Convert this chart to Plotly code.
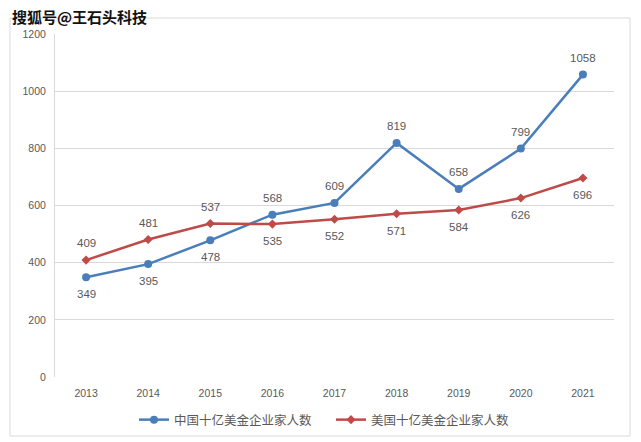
import plotly.graph_objects as go

years = ["2013", "2014", "2015", "2016", "2017", "2018", "2019", "2020", "2021"]
china = [349, 395, 478, 568, 609, 819, 658, 799, 1058]
usa = [409, 481, 537, 535, 552, 571, 584, 626, 696]
china_label_pos = [-1, -1, -1, 1, 1, 1, 1, 1, 1]
usa_label_pos = [1, 1, 1, -1, -1, -1, -1, -1, -1]
china_name = "中国十亿美金企业家人数"
usa_name = "美国十亿美金企业家人数"
yticks = [0, 200, 400, 600, 800, 1000, 1200]

xi = list(range(len(years)))

blue = "#4A7EBB"
red = "#BE4B48"
gray = "#595959"

fig = go.Figure()
fig.add_trace(go.Scatter(x=xi, y=china, name=china_name, mode="lines+markers",
                         line=dict(color=blue, width=2.5),
                         marker=dict(symbol="circle", size=8, color=blue)))
fig.add_trace(go.Scatter(x=xi, y=usa, name=usa_name, mode="lines+markers",
                         line=dict(color=red, width=2.5),
                         marker=dict(symbol="diamond", size=7, color=red)))

annotations = []
for ys, pos in [(china, china_label_pos), (usa, usa_label_pos)]:
    for x, y, p in zip(xi, ys, pos):
        annotations.append(dict(x=x, y=y, xref="x", yref="y", text=str(y), showarrow=False,
                                yshift=17 * p, font=dict(size=11.5, color=gray,
                                family="Liberation Sans, Arial, sans-serif")))

annotations.append(dict(xref="paper", yref="paper", x=(10 - 55) / 559, y=(377 - 16) / 343,
                        xanchor="left", yanchor="middle", showarrow=False,
                        text="<b>搜狐号@王石头科技</b>",
                        font=dict(size=15, color="#111111", family="Noto Sans CJK SC")))

fig.update_layout(
    width=641, height=442,
    margin=dict(l=55, r=27, t=34, b=65, autoexpand=False),
    paper_bgcolor="white", plot_bgcolor="white",
    font=dict(family="Liberation Sans, Arial, sans-serif", color=gray, size=11),
    showlegend=True,
    legend=dict(orientation="h", xref="container", yref="container",
                x=134 / 641, y=1 - 420 / 442,
                xanchor="left", yanchor="middle",
                font=dict(size=12.5, color=gray, family="Noto Sans CJK SC"),
                itemwidth=30, entrywidth=152, bgcolor="rgba(0,0,0,0)"),
    annotations=annotations,
    shapes=[dict(type="rect", xref="paper", yref="paper",
                 x0=(10 - 55) / 559, x1=(630 - 55) / 559,
                 y0=(377 - 436) / 343, y1=(377 - 18) / 343,
                 line=dict(color="#D9D9D9", width=1), layer="below")],
)
fig.update_xaxes(range=[-0.5, len(years) - 0.5], tickvals=xi, ticktext=years,
                 showgrid=False, showline=False, zeroline=False, automargin=False,
                 ticks="", tickfont=dict(size=10.5, color=gray), ticklabelstandoff=8)
fig.update_yaxes(range=[0, 1200], tickvals=yticks, showgrid=True, gridcolor="#D9D9D9",
                 gridwidth=1, zeroline=False, showline=True, linecolor="#D9D9D9",
                 linewidth=1, ticks="", tickfont=dict(size=10.5, color=gray),
                 ticklabelstandoff=6, automargin=False)

fig.write_html("out.html", config={"displayModeBar": False},
               post_script="document.body.style.margin='0';")
